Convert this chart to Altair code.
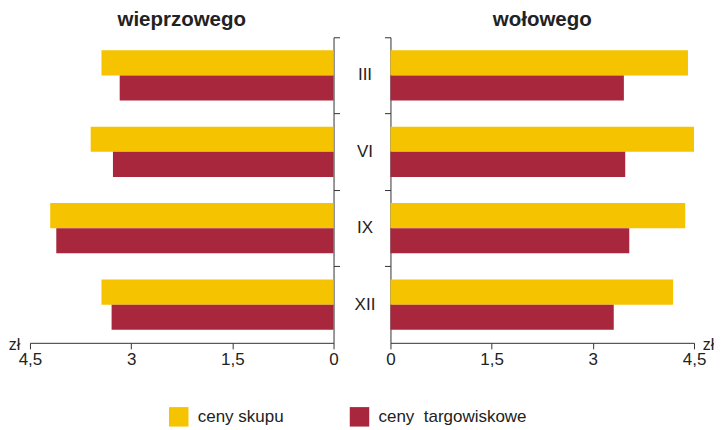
import altair as alt
import pandas as pd

months = ["III", "VI", "IX", "XII"]
series = ["ceny skupu", "ceny\u00a0 targowiskowe"]
pork_skup = [3.44, 3.60, 4.20, 3.44]
pork_targ = [3.17, 3.27, 4.11, 3.29]
beef_skup = [4.41, 4.50, 4.37, 4.19]
beef_targ = [3.46, 3.48, 3.54, 3.31]

colors = ["#F6C300", "#A8273D"]
FONT = "Liberation Sans, Arial, sans-serif"
TXT = "#222222"
AX = "#333333"


def long_df(skup, targ):
    rows = []
    for m, a, b in zip(months, skup, targ):
        rows.append({"month": m, "series": series[0], "value": a})
        rows.append({"month": m, "series": series[1], "value": b})
    return pd.DataFrame(rows)


pork = long_df(pork_skup, pork_targ)
beef = long_df(beef_skup, beef_targ)

W = 304
H = 306
GAP = 57

label_expr = "replace(format(datum.value, '.1~f'), '.', ',')"


def panel(df, title, reverse, yorient, title_x):
    return alt.Chart(
        df,
        title=alt.TitleParams(title, fontSize=20.5, fontWeight="bold", font=FONT,
                              anchor="middle", offset=6, color=TXT),
    ).mark_bar().encode(
        x=alt.X(
            "value:Q",
            scale=alt.Scale(domain=[0, 4.5], reverse=reverse, nice=False, zero=True),
            axis=alt.Axis(
                values=[0, 1.5, 3, 4.5], labelExpr=label_expr, grid=False,
                labelFlush=False, labelOverlap=False,
                tickSize=6, labelFontSize=17, labelPadding=3, labelFont=FONT,
                labelColor=TXT, domainColor=AX, tickColor=AX,
                title="zł", titleX=title_x, titleY=2, titleAlign="center",
                titleBaseline="middle", titleAngle=0, titleFontWeight="normal",
                titleFontSize=16, titleFont=FONT, titleColor=TXT,
            ),
        ),
        y=alt.Y(
            "month:N", sort=months,
            scale=alt.Scale(paddingInner=0, paddingOuter=0),
            axis=alt.Axis(orient=yorient, labels=False, title=None, tickSize=6,
                          bandPosition=0, domainColor=AX, tickColor=AX, grid=False),
        ),
        yOffset=alt.YOffset("series:N", sort=series,
                            scale=alt.Scale(paddingOuter=0.52, paddingInner=0)),
        color=alt.Color(
            "series:N", sort=series,
            scale=alt.Scale(domain=series, range=colors),
            legend=alt.Legend(
                title=None, orient="none", direction="horizontal",
                legendX=139, legendY=370, symbolType="square", symbolSize=380,
                symbolStrokeWidth=0, symbolOpacity=1, labelFontSize=17,
                labelFont=FONT, labelColor=TXT, labelOffset=9, columnPadding=66,
            ),
        ),
    ).properties(width=W, height=H)


left = panel(pork, "wieprzowego", True, "right", -16)
right = panel(beef, "wołowego", False, "left", W + 14)

mid = alt.Chart(pd.DataFrame({"month": months})).mark_text(
    fontSize=17, font=FONT, color=TXT
).encode(
    y=alt.Y("month:N", sort=months, axis=None,
            scale=alt.Scale(paddingInner=0, paddingOuter=0)),
    x=alt.value(GAP / 2 + 3),
    text="month:N",
).properties(width=GAP, height=H)

chart = alt.hconcat(left, mid, right, spacing=0, bounds="flush").resolve_scale(
    y="independent"
).properties(
    padding={"left": 0, "top": 2, "right": 0, "bottom": 0}
).configure_view(stroke=None)

chart.save("out.html", embed_options={"renderer": "svg", "actions": False})
